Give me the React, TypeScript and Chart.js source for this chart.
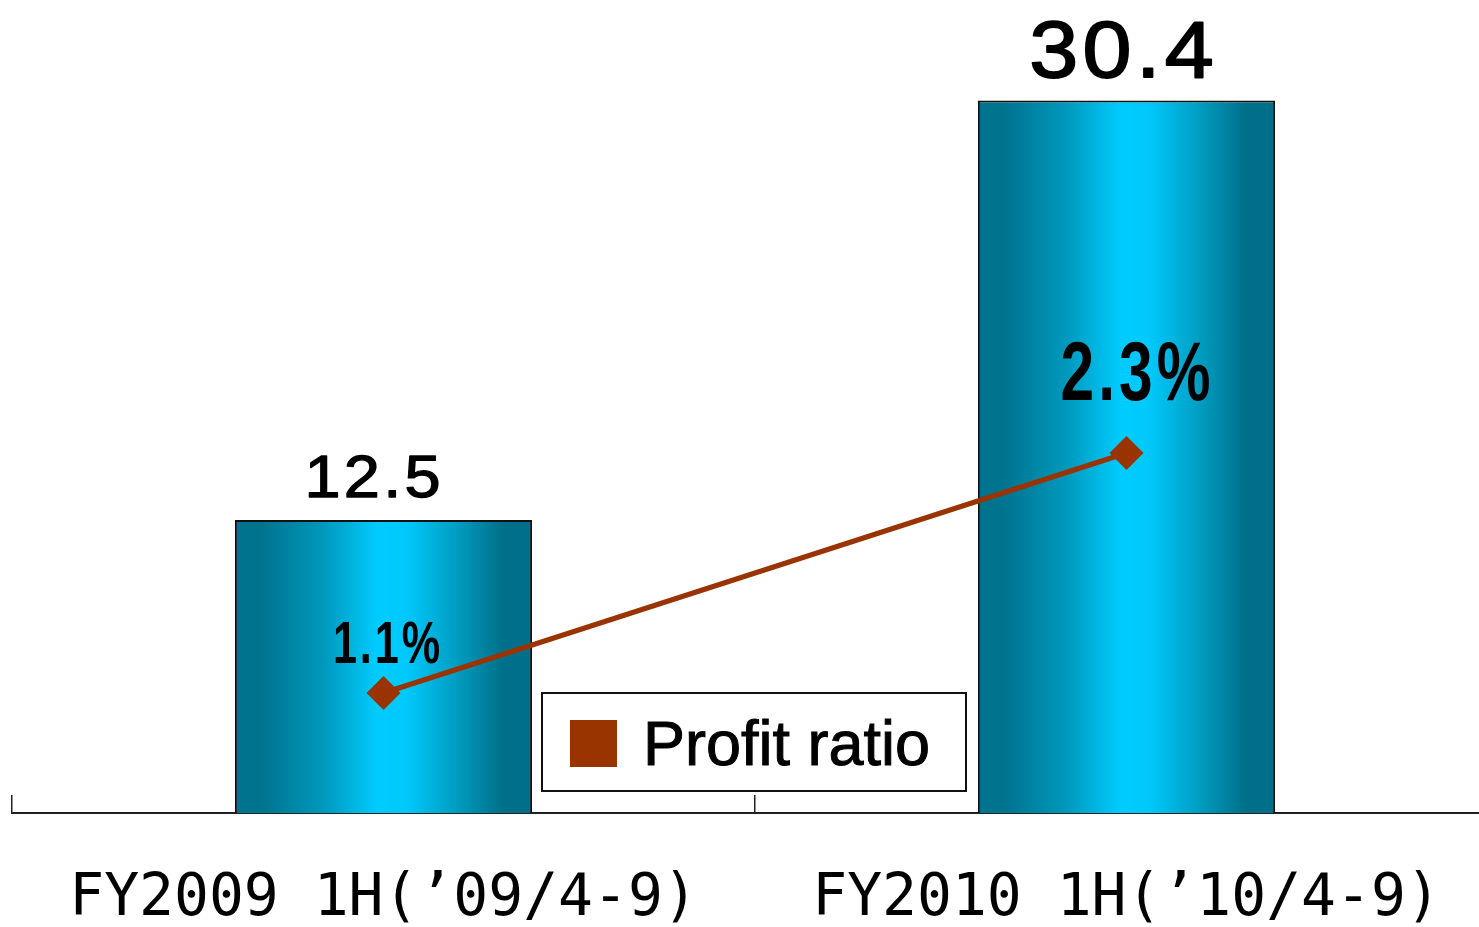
import { useEffect, useRef } from 'react';
import { Chart, registerables } from 'chart.js';

Chart.register(...registerables);

const categories = ['FY2009 1H(’09/4-9)', 'FY2010 1H(’10/4-9)'];
const incomeValues = [12.5, 30.4];
const profitRatio = [1.1, 2.3];
const incomeLabels = ['12.5', '30.4'];
const ratioLabels = ['1.1%', '2.3%'];
const legendLabel = 'Profit ratio';

const incomeLabelSizes = [59, 80];
const incomeLabelDx = [-11, -5];
const ratioLabelSizes = [60, 84];
const ratioLabelOffsets = [30, 53];
const ratioLabelDx = [3, 9];

const BAR_FRACTION = 0.4;
const LINE_COLOR = '#993300';

function barGradient(context: any) {
  const chart = context.chart;
  const xs = chart.scales?.x;
  if (!chart.chartArea || !xs) return '#00a8d8';
  const c = xs.getPixelForValue(context.dataIndex);
  const half = (xs.width / categories.length) * BAR_FRACTION / 2;
  const g = chart.ctx.createLinearGradient(c - half, 0, c + half, 0);
  g.addColorStop(0, '#00738f');
  g.addColorStop(0.09, '#00738f');
  g.addColorStop(0.3, '#0099bd');
  g.addColorStop(0.48, '#00ccff');
  g.addColorStop(0.58, '#00c8fa');
  g.addColorStop(0.75, '#009cc0');
  g.addColorStop(0.9, '#00708a');
  g.addColorStop(1, '#00708a');
  return g;
}

const labelPlugin = {
  id: 'valueLabels',
  afterDatasetsDraw(chart: any) {
    const ctx = chart.ctx;
    const barMeta = chart.getDatasetMeta(0);
    const lineMeta = chart.getDatasetMeta(1);
    ctx.save();
    ctx.fillStyle = '#000';
    ctx.strokeStyle = '#000';
    ctx.lineJoin = 'round';
    ctx.textAlign = 'center';
    ctx.textBaseline = 'alphabetic';
    barMeta.data.forEach((el: any, i: number) => {
      const size = incomeLabelSizes[i];
      const spacing = size / 20;
      ctx.save();
      ctx.translate(el.x + incomeLabelDx[i] + spacing * 0.55, el.y - 23);
      ctx.scale(1.1, 1);
      ctx.font = `${size}px "Liberation Sans", Arial, sans-serif`;
      (ctx as any).letterSpacing = `${spacing}px`;
      ctx.lineWidth = size / 45;
      ctx.fillText(incomeLabels[i], 0, 0);
      ctx.strokeText(incomeLabels[i], 0, 0);
      ctx.restore();
    });
    lineMeta.data.forEach((el: any, i: number) => {
      const size = ratioLabelSizes[i];
      const spacing = size / 15;
      ctx.save();
      ctx.translate(el.x + ratioLabelDx[i] + spacing * 0.36, el.y - ratioLabelOffsets[i]);
      ctx.scale(0.72, 1);
      ctx.font = `bold ${size}px "Liberation Sans", Arial, sans-serif`;
      (ctx as any).letterSpacing = `${spacing}px`;
      ctx.fillText(ratioLabels[i], 0, 0);
      ctx.restore();
    });
    ctx.restore();
  },
};

const legendPlugin = {
  id: 'boxLegend',
  afterDraw(chart: any) {
    const ctx = chart.ctx;
    const area = chart.chartArea;
    const x = area.left + 530;
    const y = area.top + 677;
    const w = 424;
    const h = 98;
    ctx.save();
    ctx.fillStyle = '#fff';
    ctx.fillRect(x, y, w, h);
    ctx.strokeStyle = '#111';
    ctx.lineWidth = 2;
    ctx.strokeRect(x, y, w, h);
    ctx.fillStyle = LINE_COLOR;
    ctx.fillRect(x + 28, y + 27, 47, 47);
    ctx.fillStyle = '#000';
    ctx.strokeStyle = '#000';
    ctx.lineWidth = 1;
    ctx.font = '63px "Liberation Sans", Arial, sans-serif';
    ctx.textAlign = 'left';
    ctx.textBaseline = 'alphabetic';
    ctx.fillText(legendLabel, x + 101, y + 72);
    ctx.strokeText(legendLabel, x + 101, y + 72);
    ctx.restore();
  },
};

export default function App() {
  const ref = useRef<HTMLCanvasElement>(null);

  useEffect(() => {
    const canvas = ref.current;
    if (!canvas) return;
    const chart = new Chart(canvas, {
      type: 'bar',
      data: {
        labels: categories,
        datasets: [
          {
            type: 'bar',
            label: 'Income',
            data: incomeValues,
            yAxisID: 'y',
            order: 1,
            backgroundColor: barGradient as any,
            borderColor: '#111',
            borderWidth: 2,
            barPercentage: BAR_FRACTION,
            categoryPercentage: 1,
          },
          {
            type: 'line',
            label: legendLabel,
            data: profitRatio,
            yAxisID: 'y2',
            order: 0,
            borderColor: LINE_COLOR,
            backgroundColor: LINE_COLOR,
            borderWidth: 5,
            pointStyle: 'rectRot',
            pointRadius: 17,
            pointBorderWidth: 0,
            pointBackgroundColor: LINE_COLOR,
            tension: 0,
          },
        ],
      },
      options: {
        responsive: false,
        animation: false,
        devicePixelRatio: 1,
        layout: { autoPadding: false, padding: { left: 12, right: 2, top: 16, bottom: 0 } },
        plugins: {
          legend: { display: false },
          tooltip: { enabled: false },
        },
        scales: {
          x: {
            grid: {
              display: true,
              drawOnChartArea: false,
              drawTicks: true,
              tickLength: -18,
              color: '#222',
              lineWidth: 1.5,
            },
            border: { display: true, color: '#222', width: 2 },
            ticks: {
              color: '#000',
              padding: 45,
              maxRotation: 0,
              autoSkip: false,
              font: { family: '"DejaVu Sans Mono", monospace', size: 58, lineHeight: 120 / 58 },
            },
          },
          y: { display: false, min: 0, max: 34 },
          y2: { display: false, min: 0.5, max: 4.485, position: 'right' },
        },
      },
      plugins: [labelPlugin, legendPlugin],
    });
    return () => chart.destroy();
  }, []);

  return (
    <div style={{ position: 'fixed', left: 0, top: 0, width: 1479, height: 927, overflow: 'hidden', background: '#fff' }}>
      <canvas ref={ref} width={1500} height={1005} style={{ width: 1500, height: 1005, display: 'block' }} />
    </div>
  );
}
